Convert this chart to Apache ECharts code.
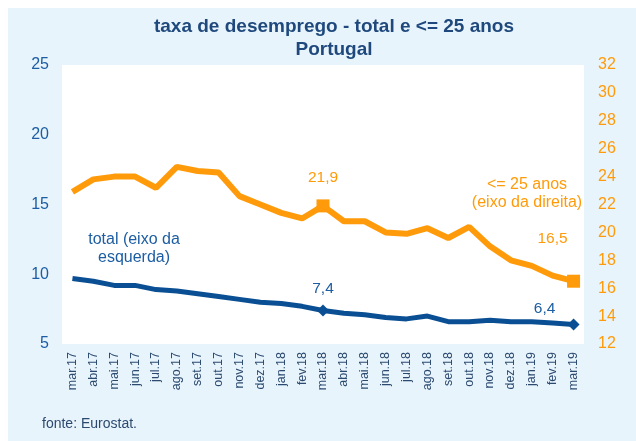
<!DOCTYPE html>
<html>
<head>
<meta charset="utf-8">
<script src="https://cdn.jsdelivr.net/npm/echarts@6/dist/echarts.min.js"></script>
<style>
  html, body { margin: 0; padding: 0; background: #fff; }
  #panel { position: absolute; left: 8px; top: 8px; width: 628px; height: 433px; background: #e8f4fc; }
  #chart { width: 628px; height: 433px; }
</style>
</head>
<body>
<div id="panel"><div id="chart"></div></div>
<script>
const months = ['mar.17', 'abr.17', 'mai.17', 'jun.17', 'jul.17', 'ago.17', 'set.17', 'out.17', 'nov.17', 'dez.17',
  'jan.18', 'fev.18', 'mar.18', 'abr.18', 'mai.18', 'jun.18', 'jul.18', 'ago.18', 'set.18', 'out.18',
  'nov.18', 'dez.18', 'jan.19', 'fev.19', 'mar.19']
// taxa de desemprego total (eixo da esquerda)
const total = [9.7, 9.5, 9.2, 9.2, 8.9, 8.8, 8.6, 8.4, 8.2, 8.0, 7.9, 7.7, 7.4, 7.2, 7.1, 6.9, 6.8, 7.0, 6.6, 6.6,
  6.7, 6.6, 6.6, 6.5, 6.4]
// <= 25 anos (eixo da direita)
const jovens = [22.9, 23.8, 24.0, 24.0, 23.2, 24.7, 24.4, 24.3, 22.6, 22.0, 21.4, 21.0, 21.9, 20.8, 20.8, 20.0, 19.9,
  20.3, 19.6, 20.4, 19.0, 18.0, 17.6, 16.9, 16.5]
const marked = [12, 24]

const blue = '#0a4f93'
const blueText = '#1c5da3'
const orange = '#ff9b0a'
const font = 'Liberation Sans, Arial, sans-serif'

const fmt = p => String(p.value).replace('.', ',')

const totalData = total.map((v, i) => {
  if (!marked.includes(i)) return v
  return {
    value: v,
    symbol: 'diamond',
    symbolSize: 12,
    label: {
      show: true,
      position: 'top',
      distance: 8,
      offset: i === 24 ? [-29, 6] : [0, 0],
      formatter: fmt,
      color: blueText,
      fontSize: 15.5,
      fontFamily: font
    }
  }
})
const jovensData = jovens.map((v, i) => {
  if (!marked.includes(i)) return v
  return {
    value: v,
    symbol: 'rect',
    symbolSize: 13,
    label: {
      show: true,
      position: 'top',
      distance: 14,
      offset: i === 24 ? [-21, -14] : [0, 0],
      formatter: fmt,
      color: orange,
      fontSize: 15.5,
      fontFamily: font
    }
  }
})

const chart = echarts.init(document.getElementById('chart'))
chart.setOption({
  animation: false,
  textStyle: { fontFamily: font },
  title: {
    text: 'taxa de desemprego - total e <= 25 anos\nPortugal',
    left: 321,
    textAlign: 'center',
    top: 2,
    textStyle: { color: '#1f497d', fontSize: 19, fontWeight: 'bold', lineHeight: 23, fontFamily: font }
  },
  grid: {
    left: 54,
    top: 57,
    right: 52,
    bottom: 97,
    show: true,
    backgroundColor: '#fff',
    borderWidth: 0
  },
  xAxis: {
    type: 'category',
    data: months,
    boundaryGap: true,
    axisLine: { show: false },
    axisTick: { show: false },
    axisLabel: { rotate: 90, interval: 0, margin: 8, color: '#2c4a70', fontSize: 12.5 }
  },
  yAxis: [
    {
      type: 'value',
      min: 5,
      max: 25,
      interval: 5,
      axisLine: { show: false },
      axisTick: { show: false },
      splitLine: { show: false },
      axisLabel: { color: blueText, fontSize: 16, margin: 13 }
    },
    {
      type: 'value',
      min: 12,
      max: 32,
      interval: 2,
      axisLine: { show: false },
      axisTick: { show: false },
      splitLine: { show: false },
      axisLabel: { color: orange, fontSize: 16, margin: 14 }
    }
  ],
  series: [
    {
      name: 'total',
      type: 'line',
      yAxisIndex: 0,
      data: totalData,
      symbol: 'none',
      showSymbol: true,
      lineStyle: { color: blue, width: 5 },
      itemStyle: { color: blue },
      z: 3
    },
    {
      name: '<= 25 anos',
      type: 'line',
      yAxisIndex: 1,
      data: jovensData,
      symbol: 'none',
      showSymbol: true,
      lineStyle: { color: orange, width: 6 },
      itemStyle: { color: orange },
      z: 2
    }
  ],
  graphic: [
    {
      type: 'text',
      x: 126,
      y: 232,
      style: {
        text: 'total (eixo da',
        fill: blueText,
        fontSize: 16,
        align: 'center',
        verticalAlign: 'middle',
        fontFamily: font
      }
    },
    {
      type: 'text',
      x: 126,
      y: 250,
      style: {
        text: 'esquerda)',
        fill: blueText,
        fontSize: 16,
        align: 'center',
        verticalAlign: 'middle',
        fontFamily: font
      }
    },
    {
      type: 'text',
      x: 519,
      y: 177,
      style: {
        text: '<= 25 anos',
        fill: orange,
        fontSize: 16,
        align: 'center',
        verticalAlign: 'middle',
        fontFamily: font
      }
    },
    {
      type: 'text',
      x: 519,
      y: 195,
      style: {
        text: '(eixo da direita)',
        fill: orange,
        fontSize: 16,
        align: 'center',
        verticalAlign: 'middle',
        fontFamily: font
      }
    },
    {
      type: 'text',
      left: 34,
      top: 409,
      style: { text: 'fonte: Eurostat.', fill: '#2c4a70', fontSize: 14, fontFamily: font }
    }
  ]
})
</script>
</body>
</html>
